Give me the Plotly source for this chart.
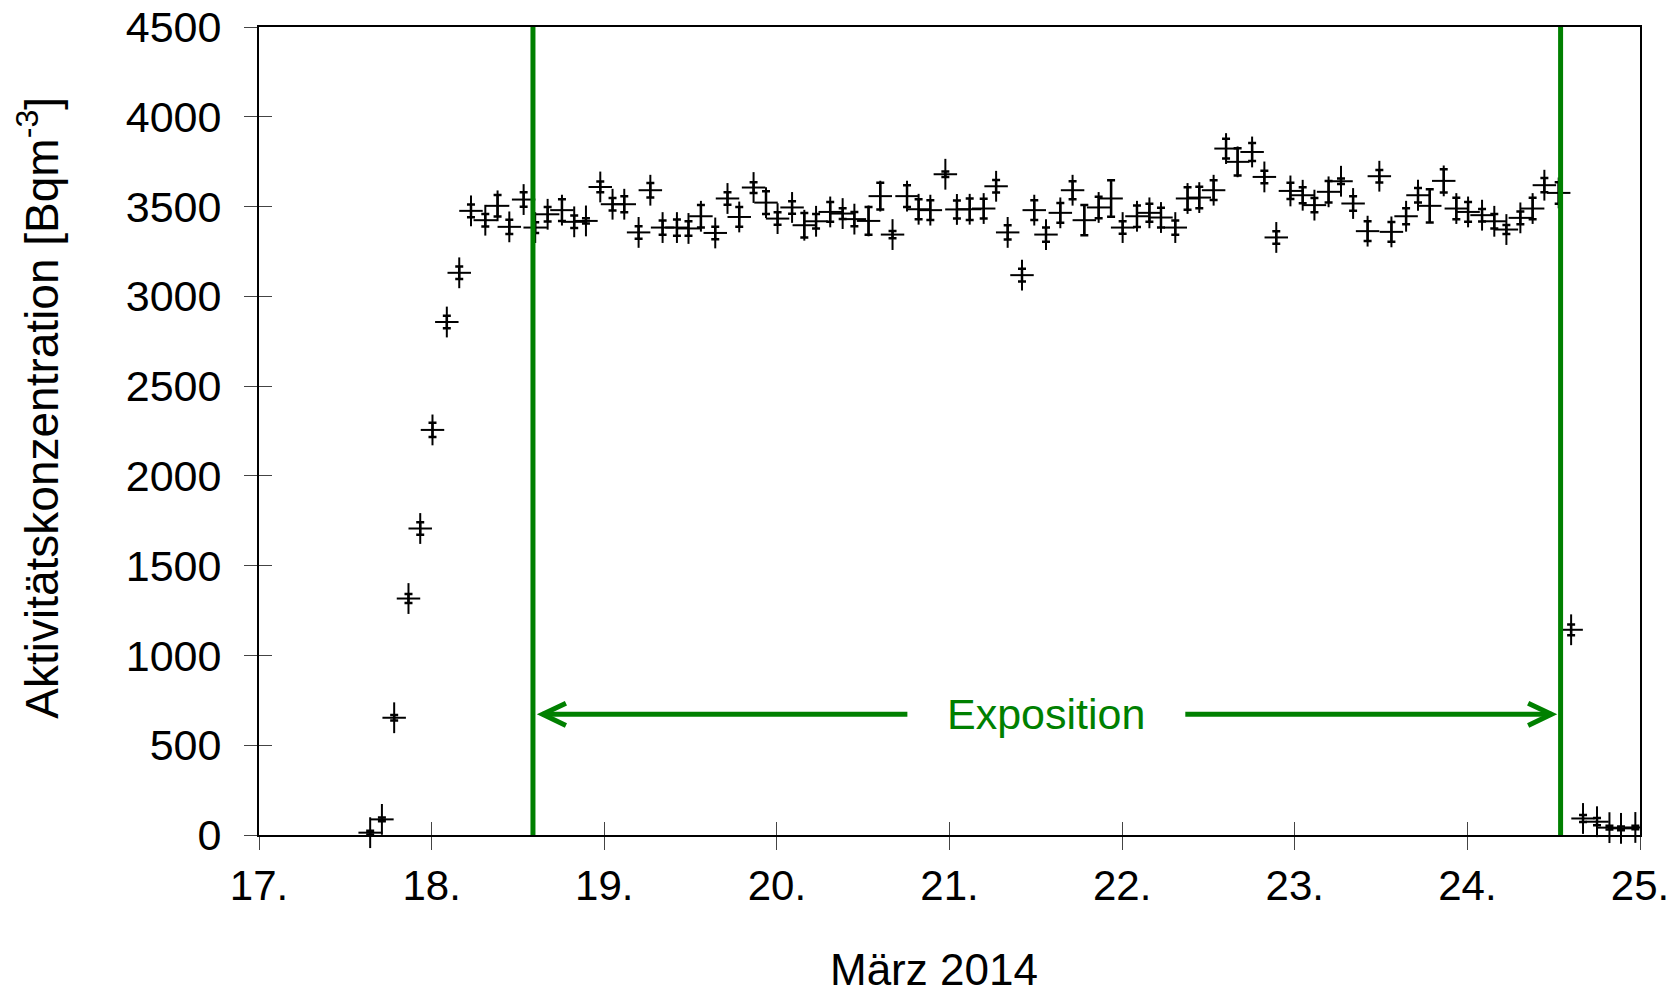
import plotly.graph_objects as go

# Day of March 2014 (centre of each measurement interval)
days = [17.644, 17.712, 17.783, 17.866, 17.934, 18.005, 18.088, 18.160, 18.228, 18.311,
        18.382, 18.450, 18.533, 18.600, 18.672, 18.755, 18.826, 18.894, 18.977, 19.048,
        19.116, 19.199, 19.267, 19.338, 19.421, 19.488, 19.560, 19.643, 19.714, 19.782,
        19.865, 19.937, 20.004, 20.088, 20.159, 20.227, 20.309, 20.381, 20.449, 20.531,
        20.599, 20.670, 20.754, 20.821, 20.889, 20.976, 21.043, 21.117, 21.198, 21.270,
        21.337, 21.420, 21.491, 21.559, 21.642, 21.713, 21.781, 21.864, 21.936, 22.003,
        22.086, 22.158, 22.225, 22.308, 22.379, 22.447, 22.530, 22.602, 22.669, 22.753,
        22.824, 22.893, 22.975, 23.046, 23.114, 23.196, 23.268, 23.338, 23.422, 23.490,
        23.560, 23.645, 23.714, 23.782, 23.863, 23.936, 24.004, 24.085, 24.156, 24.226,
        24.307, 24.378, 24.446, 24.529, 24.601, 24.670, 24.751, 24.823, 24.890, 24.973]

# Activity concentration [Bq m^-3]
conc = [13, 87, 653, 1317, 1707, 2256, 2857, 3131, 3476, 3424,
        3504, 3387, 3539, 3383, 3457, 3480, 3415, 3420, 3609, 3513,
        3513, 3356, 3591, 3383, 3383, 3378, 3446, 3353, 3545, 3442,
        3606, 3522, 3433, 3495, 3396, 3418, 3470, 3461, 3430, 3420,
        3558, 3344, 3558, 3485, 3480, 3680, 3484, 3485, 3489, 3613,
        3356, 3118, 3480, 3344, 3465, 3591, 3424, 3495, 3545, 3383,
        3446, 3465, 3439, 3383, 3545, 3550, 3591, 3823, 3749, 3804,
        3665, 3328, 3587, 3563, 3508, 3582, 3641, 3517, 3363, 3669,
        3359, 3446, 3563, 3504, 3643, 3489, 3470, 3452, 3418, 3372,
        3437, 3489, 3619, 3576, 1143, 92, 74, 41, 37, 42]

# Uncertainty of concentration
conc_err = [10, 10, 15, 25, 35, 40, 35, 35, 35, 35,
            60, 40, 40, 30, 40, 60, 35, 15, 30, 35,
            45, 35, 40, 40, 45, 40, 63, 35, 35, 55,
            30, 63, 35, 35, 68, 40, 55, 30, 40, 77,
            74, 20, 60, 56, 55, 15, 50, 60, 55, 35,
            40, 35, 55, 40, 55, 50, 84, 60, 102, 35,
            60, 50, 55, 40, 63, 60, 55, 55, 76, 50,
            35, 35, 45, 45, 40, 60, 15, 40, 55, 35,
            55, 45, 40, 93, 65, 60, 55, 35, 40, 25,
            35, 60, 40, 60, 30, 20, 20, 10, 10, 10]

# Half width of the measurement interval [days]
interval_half = 0.068

x_ticks = [17, 18, 19, 20, 21, 22, 23, 24, 25]
x_ticktext = ["17.", "18.", "19.", "20.", "21.", "22.", "23.", "24.", "25."]
y_ticks = [0, 500, 1000, 1500, 2000, 2500, 3000, 3500, 4000, 4500]

expo_start = 18.587
expo_end = 24.54
expo_level = 672
expo_label = "Exposition"

GREEN = "rgb(0,128,0)"
FONT = "Liberation Sans, Arial, sans-serif"

fig = go.Figure()
fig.add_trace(go.Scatter(
    x=days, y=conc, mode="markers",
    marker=dict(symbol="line-ns", size=22, color="black",
                line=dict(width=2, color="black")),
    error_x=dict(type="constant", value=interval_half, width=0,
                 thickness=2, color="black"),
    error_y=dict(type="data", array=conc_err, width=4,
                 thickness=2.5, color="black"),
    cliponaxis=False, showlegend=False,
))
# dummy trace for overlay axes (inside ticks)
fig.add_trace(go.Scatter(x=[None], y=[None], xaxis="x2", yaxis="y2",
                         showlegend=False, hoverinfo="skip"))

# exposure lines
for xv in (expo_start, expo_end):
    fig.add_shape(type="line", xref="x", yref="paper", x0=xv, x1=xv, y0=0, y1=1,
                  line=dict(color=GREEN, width=5))

# arrows
left_tip = expo_start + 0.056
right_tip = expo_end - 0.053
gap_l, gap_r = 20.756, 22.366
head_dx, head_dy = 0.135, 62
fig.add_shape(type="line", x0=left_tip, x1=gap_l, y0=expo_level, y1=expo_level,
              line=dict(color=GREEN, width=5))
fig.add_shape(type="line", x0=gap_r, x1=right_tip, y0=expo_level, y1=expo_level,
              line=dict(color=GREEN, width=5))
fig.add_shape(type="path",
              path=f"M {left_tip+head_dx},{expo_level+head_dy} L {left_tip},{expo_level} L {left_tip+head_dx},{expo_level-head_dy}",
              line=dict(color=GREEN, width=5))
fig.add_shape(type="path",
              path=f"M {right_tip-head_dx},{expo_level+head_dy} L {right_tip},{expo_level} L {right_tip-head_dx},{expo_level-head_dy}",
              line=dict(color=GREEN, width=5))

fig.add_annotation(x=(gap_l + gap_r) / 2, y=expo_level, text=expo_label,
                   showarrow=False, font=dict(family=FONT, size=43, color=GREEN),
                   xanchor="center", yanchor="middle")

fig.add_annotation(x=20.91, y=-0.167, xref="x", yref="paper", text="März 2014",
                   showarrow=False, font=dict(family=FONT, size=44, color="black"),
                   xanchor="center", yanchor="middle")
fig.add_annotation(x=-0.16, y=2380, xref="paper", yref="y",
                   text="Aktivitätskonzentration [Bqm<sup>-3</sup>]",
                   textangle=-90, showarrow=False,
                   font=dict(family=FONT, size=46, color="black"),
                   xanchor="center", yanchor="middle")

axis_common = dict(showgrid=False, zeroline=False, automargin=False)
fig.update_layout(
    width=1677, height=995,
    margin=dict(l=259, r=37, t=27, b=160),
    paper_bgcolor="white", plot_bgcolor="white",
    font=dict(family=FONT, size=40, color="black"),
    xaxis=dict(range=[17, 25], tickvals=x_ticks, ticktext=x_ticktext,
               ticks="outside", ticklen=13, tickwidth=1, tickcolor="#444",
               showline=True, linewidth=2, linecolor="black", mirror=True,
               tickfont=dict(family=FONT, size=42), **axis_common),
    yaxis=dict(range=[0, 4500], tickvals=y_ticks,
               ticks="outside", ticklen=13, tickwidth=1, tickcolor="#444",
               showline=True, linewidth=2, linecolor="black", mirror=True,
               ticklabelstandoff=14,
               tickfont=dict(family=FONT, size=43), **axis_common),
    xaxis2=dict(range=[17, 25], overlaying="x", anchor="y2", side="bottom",
                tickvals=x_ticks, ticks="inside", ticklen=13, tickwidth=1,
                tickcolor="#444", showticklabels=False, showline=False,
                **axis_common),
    yaxis2=dict(range=[0, 4500], overlaying="y", anchor="x2", side="left",
                tickvals=y_ticks, ticks="inside", ticklen=13, tickwidth=1,
                tickcolor="#444", showticklabels=False, showline=False,
                **axis_common),
)

fig.write_html("out.html")
